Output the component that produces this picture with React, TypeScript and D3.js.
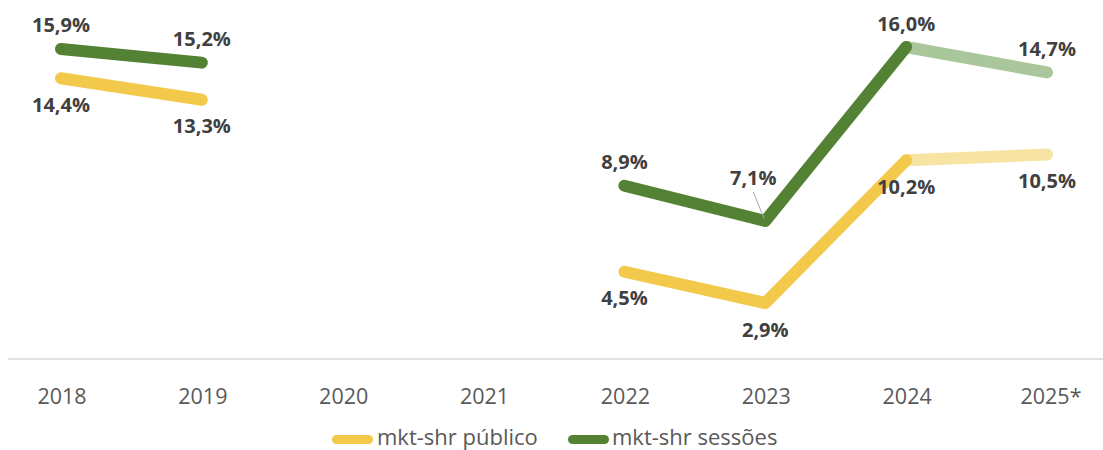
import React from "react";
import * as d3 from "d3";

const categories = ["2018", "2019", "2020", "2021", "2022", "2023", "2024", "2025*"];
const publico: (number | null)[] = [14.4, 13.3, null, null, 4.5, 2.9, 10.2, 10.5];
const sessoes: (number | null)[] = [15.9, 15.2, null, null, 8.9, 7.1, 16.0, 14.7];
const projectedFrom = "2024";
const legendLabels = ["mkt-shr público", "mkt-shr sessões"];

const W = 1103;
const H = 450;
const GREEN = "#548235";
const GREEN_LIGHT = "#a9c79b";
const YELLOW = "#f2c94a";
const YELLOW_LIGHT = "#f8e4a2";
const LABEL = "#404040";
const AXIS = "#595959";
const FONT = "'Open Sans', 'Noto Sans', sans-serif";

const x = d3.scalePoint<string>().domain(categories).range([61, 1047]);
const y = d3.scaleLinear().domain([0, 16]).range([359.7, 47]);

const fmt = (v: number) => v.toFixed(1).replace(".", ",") + "%";

type Pt = { c: string; v: number };

function segments(values: (number | null)[]) {
  const pts: (Pt | null)[] = values.map((v, i) => (v == null ? null : { c: categories[i], v }));
  const solid: Pt[][] = [];
  const faded: Pt[][] = [];
  const pIdx = categories.indexOf(projectedFrom);
  let cur: Pt[] = [];
  pts.forEach((p, i) => {
    if (i > pIdx) return;
    if (p) cur.push(p);
    else {
      if (cur.length) solid.push(cur);
      cur = [];
    }
  });
  if (cur.length) solid.push(cur);
  const fad: Pt[] = [];
  for (let i = pIdx; i < pts.length; i++) if (pts[i]) fad.push(pts[i] as Pt);
  if (fad.length > 1) faded.push(fad);
  return { pts, solid, faded };
}

const line = d3
  .line<Pt>()
  .x((d) => x(d.c) as number)
  .y((d) => y(d.v));

export default function App() {
  const pub = segments(publico);
  const ses = segments(sessoes);
  const sw = 12;
  return (
    <svg width={W} height={H} style={{ position: "absolute", left: 0, top: 0, background: "#fff" }}>
      <line x1={8} x2={W} y1={359} y2={359} stroke="#d9d9d9" strokeWidth={1.5} />
      {categories.map((c) => (
        <text
          key={c}
          x={(x(c) as number) + (c.endsWith("*") ? 4 : 1)}
          y={404}
          textAnchor="middle"
          fontFamily={FONT}
          fontSize={21.5}
          fill={AXIS}
        >
          {c}
        </text>
      ))}
      {pub.faded.map((s, i) => (
        <path key={"pf" + i} d={line(s) || ""} fill="none" stroke={YELLOW_LIGHT} strokeWidth={sw} strokeLinecap="round" strokeLinejoin="round" />
      ))}
      {ses.faded.map((s, i) => (
        <path key={"sf" + i} d={line(s) || ""} fill="none" stroke={GREEN_LIGHT} strokeWidth={sw} strokeLinecap="round" strokeLinejoin="round" />
      ))}
      {pub.solid.map((s, i) => (
        <path key={"ps" + i} d={line(s) || ""} fill="none" stroke={YELLOW} strokeWidth={sw} strokeLinecap="round" strokeLinejoin="round" />
      ))}
      {ses.solid.map((s, i) => (
        <path key={"ss" + i} d={line(s) || ""} fill="none" stroke={GREEN} strokeWidth={sw} strokeLinecap="round" strokeLinejoin="round" />
      ))}
      {sessoes[5] != null && (
        <line
          x1={(x("2023") as number) - 12}
          y1={y(sessoes[5] as number) - 29}
          x2={(x("2023") as number) - 1}
          y2={y(sessoes[5] as number) - 2}
          stroke="#a6a6a6"
          strokeWidth={1}
        />
      )}
      {ses.pts.map((p, i) =>
        p ? (
          <text
            key={"sl" + i}
            x={(x(p.c) as number) + (p.c === "2023" ? -12 : 0)}
            y={y(p.v) + (p.c === "2023" ? -36 : -16.5)}
            textAnchor="middle"
            fontFamily={FONT}
            fontWeight={700}
            fontSize={20}
            fill={LABEL}
          >
            {fmt(p.v)}
          </text>
        ) : null
      )}
      {pub.pts.map((p, i) =>
        p ? (
          <text
            key={"pl" + i}
            x={x(p.c) as number}
            y={y(p.v) + 33.5}
            textAnchor="middle"
            fontFamily={FONT}
            fontWeight={700}
            fontSize={20}
            fill={LABEL}
          >
            {fmt(p.v)}
          </text>
        ) : null
      )}
      <g fontFamily={FONT} fontSize={22} fill={AXIS}>
        <rect x={332} y={435} width={41} height={9} rx={4.5} fill={YELLOW} />
        <text x={377} y={445}>{legendLabels[0]}</text>
        <rect x={568} y={435} width={41} height={9} rx={4.5} fill={GREEN} />
        <text x={612} y={445}>{legendLabels[1]}</text>
      </g>
    </svg>
  );
}
